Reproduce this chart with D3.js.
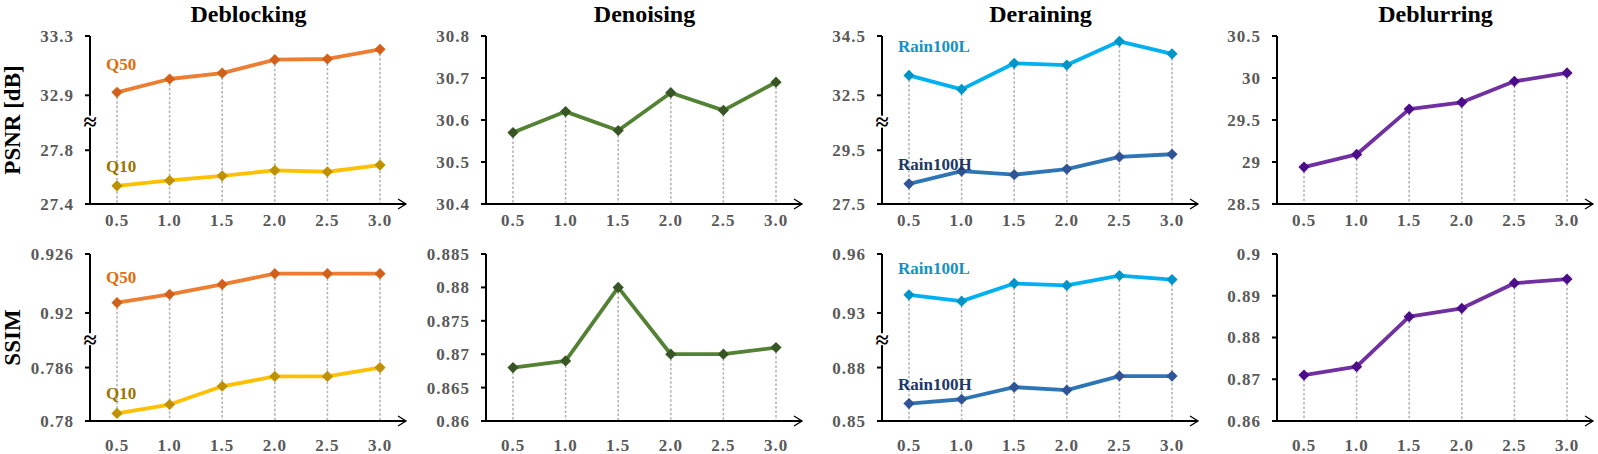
<!DOCTYPE html>
<html>
<head>
<meta charset="utf-8">
<script src="https://cdn.jsdelivr.net/npm/d3@7"></script>
<style>
  body { margin: 0; background: #fff; }
  svg text { font-family: "Liberation Serif", "Times New Roman", serif; font-weight: bold; }
</style>
</head>
<body>
<div id="chart"></div>
<script>
// x values shared by every panel
const ratios = [0.5, 1.0, 1.5, 2.0, 2.5, 3.0];

const titles = ["Deblocking", "Denoising", "Deraining", "Deblurring"];
const rowLabels = ["PSNR [dB]", "SSIM"];

// Deblocking
const q50Psnr = [32.92, 33.01, 33.05, 33.14, 33.145, 33.21];
const q10Psnr = [27.535, 27.575, 27.61, 27.65, 27.64, 27.69];
const q50Ssim = [0.92105, 0.9219, 0.9229, 0.924, 0.924, 0.924];
const q10Ssim = [0.78085, 0.78185, 0.7839, 0.785, 0.785, 0.786];

// Denoising
const denoisePsnr = [30.57, 30.62, 30.575, 30.665, 30.623, 30.69];
const denoiseSsim = [0.868, 0.869, 0.880, 0.870, 0.870, 0.871];

// Deraining
const rain100LPsnr = [33.17, 32.7, 33.58, 33.52, 34.32, 33.9];
const rain100HPsnr = [28.25, 28.72, 28.59, 28.8, 29.25, 29.35];
const rain100LSsim = [0.9392, 0.936, 0.945, 0.944, 0.949, 0.947];
const rain100HSsim = [0.8598, 0.8622, 0.869, 0.8673, 0.8752, 0.8752];

// Deblurring
const deblurPsnr = [28.94, 29.09, 29.63, 29.71, 29.96, 30.06];
const deblurSsim = [0.871, 0.873, 0.885, 0.887, 0.893, 0.894];

// y tick values
const ticksQPsnr = [27.4, 27.8, 32.9, 33.3];
const ticksQSsim = [0.78, 0.786, 0.92, 0.926];
const ticksDenoisePsnr = [30.4, 30.5, 30.6, 30.7, 30.8];
const ticksDenoiseSsim = [0.86, 0.865, 0.87, 0.875, 0.88, 0.885];
const ticksRainPsnr = [27.5, 29.5, 32.5, 34.5];
const ticksRainSsim = [0.85, 0.88, 0.93, 0.96];
const ticksDeblurPsnr = [28.5, 29, 29.5, 30, 30.5];
const ticksDeblurSsim = [0.86, 0.87, 0.88, 0.89, 0.9];

const colors = {
  q50: { line: "#ED7D31", mark: "#D2601A", label: "#E36C0A" },
  q10: { line: "#FFC000", mark: "#BF9000", label: "#9A7400" },
  rainL: { line: "#00B0F0", mark: "#0095C8", label: "#1592C4" },
  rainH: { line: "#2E75B6", mark: "#2F5597", label: "#203864" },
  denoise: { line: "#548235", mark: "#375623" },
  deblur: { line: "#7030A0", mark: "#4B0D8A" }
};

// panel specs: broken axes have [bottom band, top band]
const panels = [
  [ // PSNR row
    { ticks: ticksQPsnr, broken: true,
      series: [{ v: q50Psnr, c: colors.q50, name: "Q50" }, { v: q10Psnr, c: colors.q10, name: "Q10" }] },
    { ticks: ticksDenoisePsnr, series: [{ v: denoisePsnr, c: colors.denoise }] },
    { ticks: ticksRainPsnr, broken: true,
      series: [{ v: rain100LPsnr, c: colors.rainL, name: "Rain100L" }, { v: rain100HPsnr, c: colors.rainH, name: "Rain100H" }] },
    { ticks: ticksDeblurPsnr, series: [{ v: deblurPsnr, c: colors.deblur }] }
  ],
  [ // SSIM row
    { ticks: ticksQSsim, broken: true,
      series: [{ v: q50Ssim, c: colors.q50, name: "Q50" }, { v: q10Ssim, c: colors.q10, name: "Q10" }] },
    { ticks: ticksDenoiseSsim, series: [{ v: denoiseSsim, c: colors.denoise }] },
    { ticks: ticksRainSsim, broken: true,
      series: [{ v: rain100LSsim, c: colors.rainL, name: "Rain100L" }, { v: rain100HSsim, c: colors.rainH, name: "Rain100H" }] },
    { ticks: ticksDeblurSsim, series: [{ v: deblurSsim, c: colors.deblur }] }
  ]
];

const W = 1598, H = 454;
const svg = d3.select("#chart").append("svg").attr("width", W).attr("height", H);

const axisX = [90, 486, 882, 1277];
const rowTop = [36, 254];
const rowBottom = [204, 421];
const xLabelY = [226, 451];
const seriesLabelDy = [[-22, -14], [-20, -14]];

function makeY(p, top, bottom) {
  const h = bottom - top;
  if (!p.broken) {
    const s = d3.scaleLinear().domain(d3.extent(p.ticks)).range([bottom, top]);
    return { y: v => s(v), tickY: p.ticks.map(t => s(t)) };
  }
  const low = d3.scaleLinear().domain([p.ticks[0], p.ticks[1]]).range([bottom, top + 0.68 * h]);
  const high = d3.scaleLinear().domain([p.ticks[2], p.ticks[3]]).range([top + 0.353 * h, top]);
  const y = v => v >= p.ticks[2] ? high(v) : low(v);
  return { y, tickY: p.ticks.map(y), breakY: top + 0.51 * h };
}

panels.forEach((row, r) => {
  const top = rowTop[r], bottom = rowBottom[r];

  // row label
  svg.append("text")
    .attr("transform", `translate(20,${(top + bottom) / 2}) rotate(-90)`)
    .attr("text-anchor", "middle")
    .attr("font-size", 23)
    .attr("fill", "#000")
    .text(rowLabels[r]);

  row.forEach((p, c) => {
    const x0 = axisX[c];
    const x = d3.scaleLinear().domain([0.5, 3.0]).range([x0 + 27, x0 + 290]);
    const { y, tickY, breakY } = makeY(p, top, bottom);
    const g = svg.append("g");

    if (r === 0) {
      g.append("text")
        .attr("x", (x(0.5) + x(3.0)) / 2).attr("y", 22)
        .attr("text-anchor", "middle")
        .attr("font-size", 24)
        .attr("fill", "#000")
        .text(titles[c]);
    }

    // dotted drop lines from the top value
    ratios.forEach((t, i) => {
      const minY = d3.min(p.series, s => y(s.v[i]));
      g.append("line")
        .attr("x1", x(t)).attr("x2", x(t))
        .attr("y1", minY).attr("y2", bottom)
        .attr("stroke", "#b4b4b4")
        .attr("stroke-width", 1.6)
        .attr("stroke-dasharray", "2.5,2");
    });

    // y axis line
    g.append("line")
      .attr("x1", x0).attr("x2", x0).attr("y1", top).attr("y2", bottom)
      .attr("stroke", "#000").attr("stroke-width", 2);

    // y ticks and labels
    p.ticks.forEach((t, i) => {
      g.append("line")
        .attr("x1", x0 - 5).attr("x2", x0)
        .attr("y1", tickY[i]).attr("y2", tickY[i])
        .attr("stroke", "#000").attr("stroke-width", 2);
      g.append("text")
        .attr("x", x0 - 16).attr("y", tickY[i])
        .attr("dy", "0.35em")
        .attr("text-anchor", "end")
        .attr("font-size", 17)
        .attr("letter-spacing", 1)
        .attr("fill", "#595959")
        .text(String(t));
    });

    // break marker
    if (p.broken) {
      g.append("rect")
        .attr("x", x0 - 6).attr("y", breakY - 6).attr("width", 12).attr("height", 12)
        .attr("fill", "#fff");
      g.append("text")
        .attr("x", x0).attr("y", breakY)
        .attr("dy", "0.35em")
        .attr("text-anchor", "middle")
        .attr("font-size", 24)
        .attr("fill", "#000")
        .text("≈");
    }

    // x axis with open arrow
    const xEnd = x0 + 316;
    g.append("line")
      .attr("x1", x0 - 1).attr("x2", xEnd).attr("y1", bottom).attr("y2", bottom)
      .attr("stroke", "#000").attr("stroke-width", 2);
    g.append("path")
      .attr("d", `M${xEnd - 8},${bottom - 5}L${xEnd},${bottom}L${xEnd - 8},${bottom + 5}`)
      .attr("fill", "none").attr("stroke", "#000").attr("stroke-width", 1.3);

    ratios.forEach(t => {
      g.append("text")
        .attr("x", x(t)).attr("y", xLabelY[r])
        .attr("text-anchor", "middle")
        .attr("font-size", 17)
        .attr("letter-spacing", 1)
        .attr("fill", "#595959")
        .text(d3.format(".1f")(t));
    });

    // series
    const line = d3.line().x((d, i) => x(ratios[i])).y(d => y(d));
    p.series.forEach((s, si) => {
      g.append("path")
        .attr("d", line(s.v))
        .attr("fill", "none")
        .attr("stroke", s.c.line)
        .attr("stroke-width", 3.8)
        .attr("stroke-linejoin", "round");
      g.selectAll(null).data(s.v).enter().append("path")
        .attr("d", d3.symbol(d3.symbolDiamond2, 80))
        .attr("transform", (d, i) => `translate(${x(ratios[i])},${y(d)})`)
        .attr("fill", s.c.mark);
      if (s.name) {
        g.append("text")
          .attr("x", x0 + 16)
          .attr("y", y(s.v[0]) + seriesLabelDy[r][si] + (s.name === "Rain100L" ? -1 : 0))
          .attr("font-size", 17)
          .attr("fill", s.c.label)
          .text(s.name);
      }
    });
  });
});
</script>
</body>
</html>
